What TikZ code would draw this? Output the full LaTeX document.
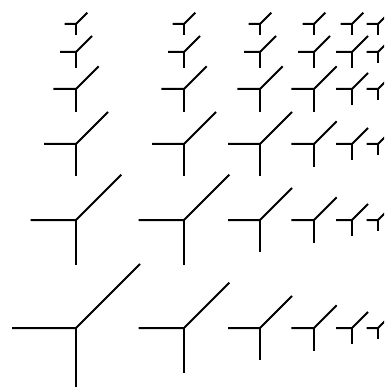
\documentclass[tikz,border=0pt]{standalone}
\usetikzlibrary{calc}
\begin{document}
\begin{tikzpicture}[x=1pt,y=-1pt,yarm/.style={line width=2pt,black}]
\useasboundingbox (0,0) rectangle (384,387);
\clip (0,0) rectangle (384,387);
\def\xarr{{76,184,260,314,352,378}}
\def\yarr{{328,220,144,89,52,24}}
\foreach \i in {0,...,5}{
  \foreach \j in {0,...,5}{
    \pgfmathsetmacro{\cx}{\xarr[\i]}
    \pgfmathsetmacro{\cy}{\yarr[\j]}
    \pgfmathsetmacro{\s}{64*pow(2,-max(\i,\j)/2)}
    \coordinate (c\i\j) at (\cx,\cy);
    \draw[yarm] ($(c\i\j)+(-\s,0)$) -- (c\i\j) -- ($(c\i\j)+(\s,-\s)$);
    \draw[yarm] (c\i\j) -- ($(c\i\j)+(0,\s)$);
  }
}
\end{tikzpicture}
\end{document}
